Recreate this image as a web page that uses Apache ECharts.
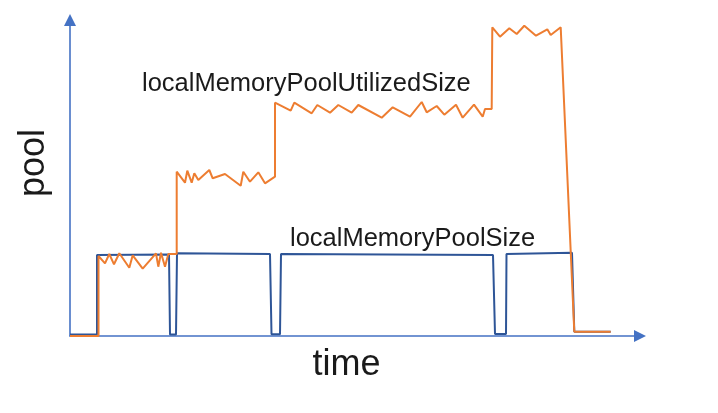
<!DOCTYPE html>
<html>
<head>
<meta charset="utf-8">
<script src="https://cdn.jsdelivr.net/npm/echarts@6/dist/echarts.min.js"></script>
<style>html,body{margin:0;padding:0;background:#fff}#c{width:718px;height:413px}</style>
</head>
<body>
<div id="c"></div>
<script>
// time axis 0..570, pool axis 0..316 (arbitrary units)
const poolSizeTime = [0, 27, 27, 99, 100, 106, 107, 200, 201.5, 210, 211, 423, 425, 436, 436.5, 502, 504.3, 540.7];
const poolSizeValue = [1.5, 1.5, 81, 81.5, 1.5, 1.5, 82.7, 82, 1.7, 1.7, 82, 81, 2, 2, 82, 83.3, 4.3, 4.3];

const utilizedTime = [0, 28.5, 28.5, 35, 39.3, 44, 49.3, 59.3, 62.7, 72.7, 86, 88.3, 91, 95, 98.3, 106.7, 106.7,
  115, 117.3, 121.7, 124.3, 128.3, 139.3, 142.7, 155, 170.7, 173.3, 180, 188.3, 195, 205, 205,
  220.7, 224.3, 241.7, 247.3, 260, 268.3, 281.7, 288.3, 311.7, 322.7, 340, 351.7, 356.7, 366.7, 374.3, 386, 392.7, 404, 412.7, 415, 421.7, 422.3,
  430, 439.3, 446.7, 454.3, 466, 477.3, 480.7, 490.7, 504.3, 540.7];
const utilizedValue = [0, 0, 80, 72.7, 82, 71.7, 82.7, 68.3, 80.7, 67.3, 82.7, 69.3, 83.3, 69.3, 82, 82, 164.3,
  153.3, 165.3, 153.3, 162.7, 156, 166, 157.7, 162, 150.3, 164.3, 154.3, 163.7, 152.7, 159.3, 233.3,
  225.3, 233.3, 222.7, 231, 223.3, 231, 223.3, 231, 218.3, 228.7, 219.3, 234, 223.7, 230, 221.3, 231.3, 218.3, 231.3, 219.3, 227, 227, 308.7,
  299.3, 307.7, 302, 310.3, 300.3, 306.7, 301, 308.7, 4.3, 4.3];

const seriesNames = ['localMemoryPoolSize', 'localMemoryPoolUtilizedSize'];
const axisNames = ['time', 'pool'];

const zip = (a, b) => a.map((v, i) => [v, b[i]]);

const chart = echarts.init(document.getElementById('c'), null, {renderer: 'canvas'});
const axisLine = {
  show: true,
  symbol: ['none', 'triangle'],
  symbolSize: [12, 12],
  lineStyle: {color: '#4472C4', width: 1.6}
};
const font = '"Liberation Sans", Arial, sans-serif';
chart.setOption({
  animation: false,
  backgroundColor: '#ffffff',
  grid: {left: 70, right: 78, top: 20, bottom: 77},
  xAxis: {
    type: 'value', min: 0, max: 570,
    axisLine: axisLine, axisTick: {show: false}, axisLabel: {show: false}, splitLine: {show: false}
  },
  yAxis: {
    type: 'value', min: 0, max: 316,
    axisLine: axisLine, axisTick: {show: false}, axisLabel: {show: false}, splitLine: {show: false}
  },
  series: [
    {
      name: seriesNames[0], type: 'line', data: zip(poolSizeTime, poolSizeValue),
      showSymbol: false, symbol: 'none', z: 2,
      lineStyle: {color: '#2E5597', width: 2}
    },
    {
      name: seriesNames[1], type: 'line', data: zip(utilizedTime, utilizedValue),
      showSymbol: false, symbol: 'none', z: 3,
      lineStyle: {color: '#ED7D31', width: 2}
    }
  ],
  graphic: [
    {type: 'text', x: 142, y: 84, style: {text: seriesNames[1], font: '25.5px ' + font, fill: '#1a1a1a', textAlign: 'left', textVerticalAlign: 'middle'}},
    {type: 'text', x: 290, y: 239, style: {text: seriesNames[0], font: '25.5px ' + font, fill: '#1a1a1a', textAlign: 'left', textVerticalAlign: 'middle'}},
    {type: 'text', x: 346.5, y: 365, style: {text: axisNames[0], font: '36px ' + font, fill: '#1a1a1a', textAlign: 'center', textVerticalAlign: 'middle'}},
    {type: 'text', x: 34, y: 163, rotation: Math.PI / 2, style: {text: axisNames[1], font: '36px ' + font, fill: '#1a1a1a', textAlign: 'center', textVerticalAlign: 'middle'}}
  ]
});
</script>
</body>
</html>
